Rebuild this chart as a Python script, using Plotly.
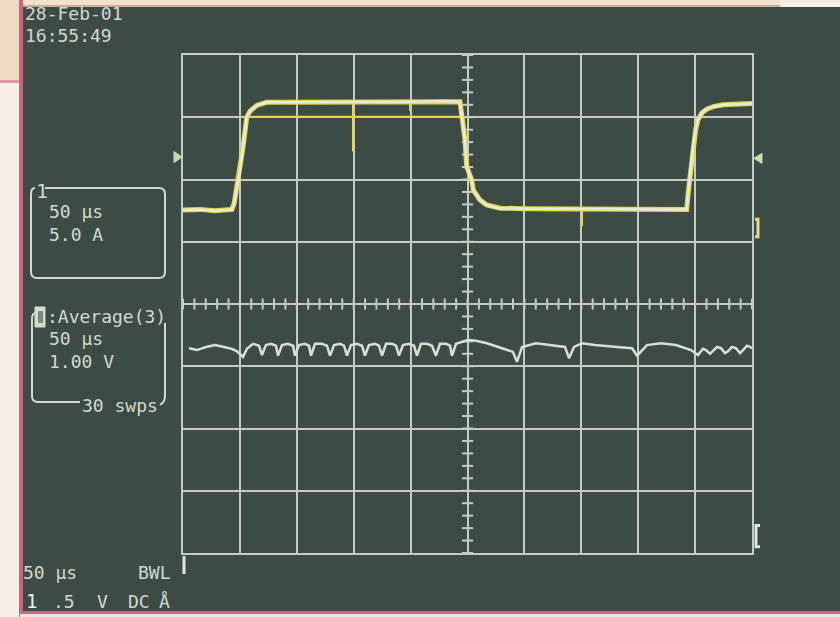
import plotly.graph_objects as go

# ---------------- data (time in µs, levels in screen divisions) ----------------
# Channel 1 : current, 5.0 A/div
ch1_t = [0, 15, 28, 40, 43, 45, 47.5, 50, 53, 56, 59, 64.8, 73.5, 85, 120, 160, 200,
         230, 242, 243.4, 246.3, 247.8, 249.3, 251.5, 253.7, 255.1, 258, 261, 266.9,
         272.4, 278.6, 300, 340, 380, 420, 442.6, 444, 446, 448.2, 450.5, 452.5, 456,
         460.2, 466, 474.5, 485, 500]
ch1_div = [1.51, 1.52, 1.50, 1.52, 1.52, 1.62, 1.90, 2.12, 2.55, 3.00, 3.10, 3.19, 3.24,
           3.24, 3.24, 3.25, 3.25, 3.26, 3.26, 3.25, 2.85, 2.63, 2.21, 2.08, 1.99, 1.83,
           1.74, 1.67, 1.59, 1.56, 1.54, 1.53, 1.53, 1.52, 1.52, 1.52, 1.80, 2.15, 2.53,
           2.80, 2.96, 3.07, 3.13, 3.17, 3.20, 3.21, 3.22]

# secondary (persisted) yellow level and glitches on channel 1
ch1_alt_t = [60.6, 243.4]
ch1_alt_div = [3.01, 3.01]
glitch_t = [149.4, 199.5, 350.6]
glitch_top = [3.22, 3.25, 1.52]
glitch_bot = [2.45, 3.10, 1.25]

# Channel C : Average(3) voltage, 1.00 V/div
ch2_t = [5.3, 12.3, 20.2, 28.1, 36.0, 43.1, 47.5, 52.7, 56.2, 61.5, 66.8, 69.4, 72.9,
         77.3, 81.7, 83.5, 87.0, 92.3, 96.7, 98.4, 101.9, 107.2, 110.7, 112.5, 116.0,
         122.1, 126.5, 129.2, 132.7, 138.0, 141.5, 144.1, 147.6, 152.9, 157.3, 159.9,
         163.4, 168.7, 172.2, 174.9, 178.4, 183.7, 187.2, 189.8, 193.3, 198.6, 203.0,
         205.6, 209.1, 214.4, 218.8, 222.3, 225.8, 231.1, 234.6, 236.4, 239.9, 245.2,
         250.4, 257.5, 267.1, 280.3, 290.0, 293.5, 297.9, 310.2, 322.5, 335.7, 339.2,
         343.6, 350.6, 362.0, 381.4, 394.6, 399.0, 407.7, 420.0, 433.2, 446.4, 452.6,
         456.9, 459.6, 463.1, 465.7, 469.3, 472.8, 476.3, 478.9, 482.4, 485.9, 489.5,
         492.1, 495.6, 498.2, 500.0]
ch2_v = [-0.71, -0.74, -0.69, -0.66, -0.69, -0.72, -0.76, -0.85, -0.72, -0.64, -0.67,
         -0.82, -0.66, -0.64, -0.67, -0.83, -0.66, -0.64, -0.67, -0.83, -0.66, -0.64,
         -0.67, -0.83, -0.64, -0.64, -0.67, -0.83, -0.66, -0.64, -0.67, -0.83, -0.66,
         -0.64, -0.67, -0.83, -0.66, -0.64, -0.67, -0.83, -0.64, -0.64, -0.67, -0.83,
         -0.66, -0.64, -0.67, -0.83, -0.64, -0.64, -0.67, -0.83, -0.64, -0.64, -0.67,
         -0.83, -0.64, -0.61, -0.58, -0.59, -0.63, -0.71, -0.77, -0.93, -0.69, -0.63,
         -0.66, -0.69, -0.87, -0.69, -0.63, -0.66, -0.69, -0.71, -0.83, -0.66, -0.63,
         -0.66, -0.74, -0.82, -0.72, -0.74, -0.80, -0.76, -0.69, -0.71, -0.79, -0.76,
         -0.69, -0.71, -0.79, -0.74, -0.67, -0.69, -0.71]

# markers on the graticule edge (screen divisions)
ch1_marker_div = 2.36
trig_marker_div = 2.34
right_marker_div = 1.22
bottom_marker_div = -3.73

# ---------------- styling ----------------
BG = "#3d4b46"
GRID = "#c3cbc3"
TXT = "#d3d9ce"
YEL = "#e6d648"
WHT = "#e6e9df"
FONT = "DejaVu Sans Mono"

L, R, T, B = 183, 88, 55, 64
W, H = 840, 617
PW, PH = W - L - R, H - T - B


def px(x):
    return (x - L) / PW


def py(y):
    return (H - B - y) / PH


fig = go.Figure()

# graticule centre ticks
fig.add_trace(go.Scatter(x=[i * 10 for i in range(51)], y=[0] * 51, mode="markers",
                         marker=dict(symbol="line-ns", size=8, line=dict(color=GRID, width=2)),
                         hoverinfo="skip"))
fig.add_trace(go.Scatter(x=[250] * 41, y=[-4 + i * 0.2 for i in range(41)], mode="markers",
                         marker=dict(symbol="line-ew", size=8, line=dict(color=GRID, width=2)),
                         hoverinfo="skip"))

# channel 1 (yellow with white persistence on top)
fig.add_trace(go.Scatter(x=ch1_alt_t, y=ch1_alt_div, mode="lines",
                         line=dict(color=YEL, width=2), hoverinfo="skip"))
gx, gy = [], []
for t, a, b in zip(glitch_t, glitch_top, glitch_bot):
    gx += [t, t, None]
    gy += [a, b, None]
fig.add_trace(go.Scatter(x=gx, y=gy, mode="lines", line=dict(color=YEL, width=2),
                         hoverinfo="skip"))
fig.add_trace(go.Scatter(x=ch1_t, y=ch1_div, mode="lines",
                         line=dict(color=YEL, width=5), hoverinfo="skip"))
fig.add_trace(go.Scatter(x=ch1_t, y=ch1_div, mode="lines",
                         line=dict(color=WHT, width=2.5), hoverinfo="skip"))

# channel C (average voltage)
fig.add_trace(go.Scatter(x=ch2_t, y=ch2_v, mode="lines",
                         line=dict(color="#dadfd4", width=2.5), hoverinfo="skip"))

axis = dict(showgrid=True, gridcolor=GRID, gridwidth=2, zeroline=False, showline=True,
            mirror=True, linecolor=GRID, linewidth=2, showticklabels=False, ticks="",
            fixedrange=True)
fig.update_layout(
    width=W, height=H, margin=dict(l=L, r=R, t=T, b=B, pad=0),
    paper_bgcolor=BG, plot_bgcolor=BG, showlegend=False,
    xaxis=dict(range=[0, 500], dtick=50, tick0=0, **axis),
    yaxis=dict(range=[-4, 4], dtick=1, tick0=0, **axis),
)

# ---------------- texts ----------------
texts = [
    ("28-Feb-01", 23, 13, 18, TXT),
    ("16:55:49", 23, 36, 18, TXT),
    ("1", 34, 191, 20, TXT),
    ("50 µs", 47, 211, 18, TXT),
    ("5.0 A", 47, 234, 18, TXT),
    (":Average(3)", 45, 316, 18, TXT),
    ("50 µs", 47, 338, 18, TXT),
    ("1.00 V", 47, 361, 18, TXT),
    ("30 swps", 80, 405, 18, TXT),
    ("50 µs", 21, 572, 18, TXT),
    ("BWL", 136, 572, 18, TXT),
    ("1", 24, 601, 19, "#eef0ea"),
    (".5", 51, 601, 18, TXT),
    ("V", 95, 601, 18, TXT),
    ("DC", 126, 601, 18, TXT),
    ("Å", 157, 601, 18, TXT),
]
for s, x, y, size, col in texts:
    fig.add_annotation(text=s, xref="paper", yref="paper", x=px(x), y=py(y),
                       xanchor="left", yanchor="middle", showarrow=False,
                       font=dict(family=FONT, size=size, color=col))

# ---------------- decorative shapes (boxes, markers, photo border) ----------------
def P(x, y):
    return f"{px(x):.5f},{py(y):.5f}"


def dy(div):
    # screen division -> paper y
    return (div + 4) / 8


def dP(xpix, div):
    return f"{px(xpix):.5f},{dy(div):.5f}"


box1 = (f"M {P(45,188)} L {P(159,188)} Q {P(165,188)} {P(165,194)} L {P(165,272)} "
        f"Q {P(165,278)} {P(159,278)} L {P(37,278)} Q {P(31,278)} {P(31,272)} "
        f"L {P(31,194)} Q {P(31,188)} {P(35,188)}")
box2a = (f"M {P(36,313)} Q {P(32,313)} {P(32,319)} L {P(32,396)} Q {P(32,402)} {P(38,402)} "
         f"L {P(80,402)}")
box2b = f"M {P(165,323)} L {P(165,396)} Q {P(165,402)} {P(160,405)}"
for d in (box1, box2a, box2b):
    fig.add_shape(type="path", path=d, xref="paper", yref="paper",
                  line=dict(color=TXT, width=2))
# trace-select icon
fig.add_shape(type="rect", xref="paper", yref="paper", x0=px(35), x1=px(45), y0=py(327), y1=py(307),
              fillcolor="#d6dbd0", line=dict(color="#d6dbd0", width=1))
fig.add_shape(type="rect", xref="paper", yref="paper", x0=px(38), x1=px(43), y0=py(323), y1=py(311),
              fillcolor="#7d8781", line=dict(width=0))
# small trigger-position mark below graticule
fig.add_shape(type="line", xref="paper", yref="paper", x0=px(184), x1=px(184), y0=py(556), y1=py(574),
              line=dict(color="#dfe3da", width=3))

# channel-1 ground marker (left) and trigger marker (right)
fig.add_shape(type="path", xref="paper", yref="paper",
              path=f"M {dP(174, ch1_marker_div + 0.09)} L {dP(182, ch1_marker_div)} "
                   f"L {dP(174, ch1_marker_div - 0.09)} Z",
              fillcolor="#bcdca6", line=dict(color="#bcdca6", width=1))
fig.add_shape(type="path", xref="paper", yref="paper",
              path=f"M {dP(762, trig_marker_div + 0.08)} L {dP(754, trig_marker_div)} "
                   f"L {dP(762, trig_marker_div - 0.08)} Z",
              fillcolor="#c8e4ae", line=dict(color="#c8e4ae", width=1))
fig.add_shape(type="path", xref="paper", yref="paper",
              path=f"M {dP(755, right_marker_div + 0.14)} L {dP(758, right_marker_div + 0.14)} "
                   f"L {dP(758, right_marker_div - 0.14)} L {dP(755, right_marker_div - 0.14)}",
              line=dict(color="#e4dc84", width=3))
fig.add_shape(type="path", xref="paper", yref="paper",
              path=f"M {dP(760, bottom_marker_div + 0.17)} L {dP(756, bottom_marker_div + 0.17)} "
                   f"L {dP(756, bottom_marker_div - 0.17)} L {dP(760, bottom_marker_div - 0.17)}",
              line=dict(color="#e2e6dd", width=3))


# photo border strips
def rect(x0, y0, x1, y1, col):
    fig.add_shape(type="rect", xref="paper", yref="paper", x0=px(x0), x1=px(x1),
                  y0=py(y1), y1=py(y0), fillcolor=col, line=dict(width=0), layer="above")


rect(0, 0, 840, 6, "#efe2cb")
rect(22, 5, 840, 7, "#cfa89c")
rect(780, 0, 840, 7, "#f3eee6")
rect(0, 0, 20, 617, "#f6eee4")
rect(0, 0, 20, 80, "#efdcc0")
rect(0, 80, 20, 83, "#d99aa6")
rect(19, 0, 23, 617, "#c9647e")
rect(20, 611, 840, 614, "#cc6a86")
rect(20, 614, 840, 617, "#efe5da")

fig.write_html("out.html", config={"displayModeBar": False},
               post_script="document.body.style.margin='0px';document.body.style.overflow='hidden';")
